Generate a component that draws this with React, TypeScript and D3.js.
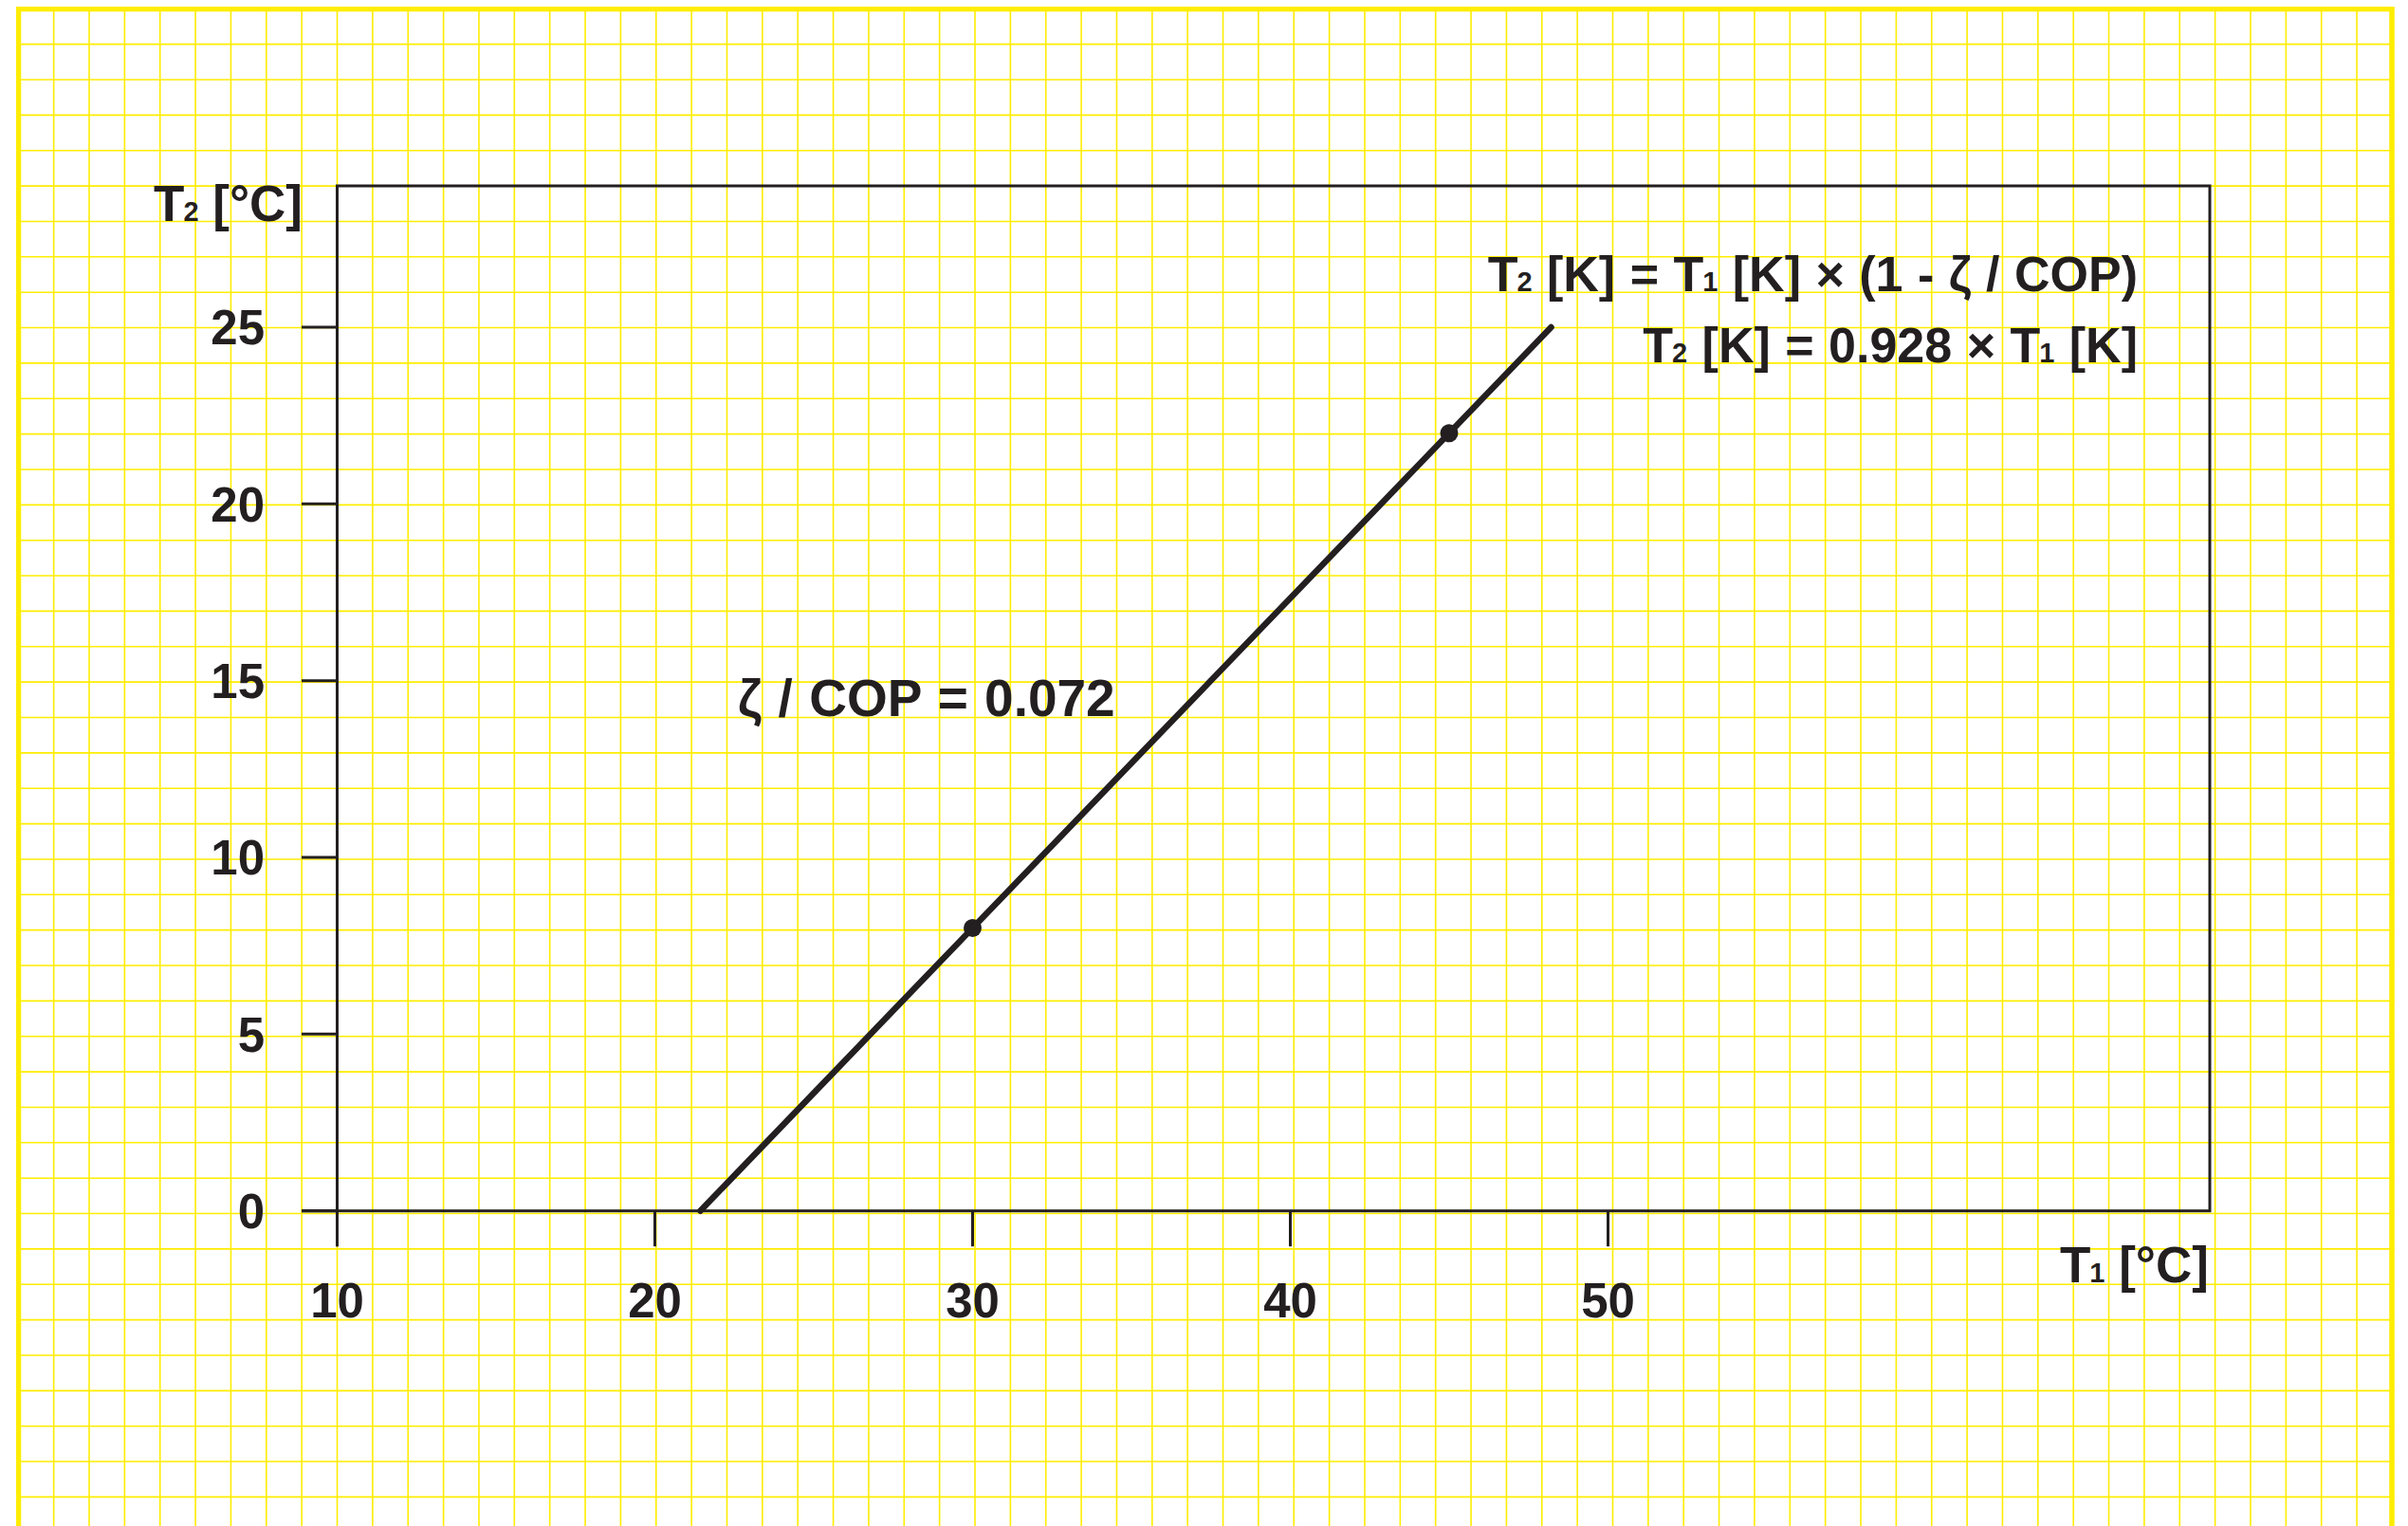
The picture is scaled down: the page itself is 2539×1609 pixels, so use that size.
import React from "react";
import * as d3 from "d3";

// Line through the operating points: T2 [°C] against T1 [°C]
const lineT1: number[] = [21.43, 30, 45, 48.21];
const lineT2: number[] = [0, 8, 22, 25];

// Marked operating points
const pointT1: number[] = [30, 45];
const pointT2: number[] = [8, 22];

// Axis ticks
const xTicks: number[] = [10, 20, 30, 40, 50];
const yTicks: number[] = [0, 5, 10, 15, 20, 25];

const W = 2539;
const H = 1609;
const INK = "#231f20";
const YELLOW = "#ffed00";
const FONT = "'Liberation Sans', Arial, Helvetica, sans-serif";

// Plot frame
const frameLeft = 355.5;
const frameRight = 2330;
const frameTop = 196;
const frameBottom = 1276.7;
const tickLen = 37.5;

// Graph-paper background
const gridStep = 37.36;
const gridX0 = 19.3;
const gridY0 = 9.3;

export default function App() {
  const x = d3.scaleLinear().domain([10, 50]).range([frameLeft, 1695.5]);
  const y = d3.scaleLinear().domain([0, 25]).range([frameBottom, 345]);

  const line = d3
    .line<number>()
    .x((_, i) => x(lineT1[i]))
    .y((_, i) => y(lineT2[i]));

  const vLines = d3.range(gridX0, W, gridStep);
  const hLines = d3.range(gridY0, H + gridStep, gridStep);

  const sub = 29;

  return (
    <svg
      width={W}
      height={H}
      viewBox={`0 0 ${W} ${H}`}
      style={{ position: "absolute", left: 0, top: 0, background: "#fff" }}
    >
      <rect x={0} y={0} width={W} height={H} fill="#fff" />
      <g stroke={YELLOW} strokeWidth={1.6}>
        {vLines.map((gx, i) => (
          <line key={"v" + i} x1={gx} x2={gx} y1={0} y2={H} />
        ))}
        {hLines.map((gy, i) => (
          <line key={"h" + i} x1={0} x2={W} y1={gy} y2={gy} />
        ))}
      </g>
      {/* outer yellow border, open at the bottom */}
      <path
        d={`M19.5,${H} L19.5,9.5 L2522,9.5 L2522,${H}`}
        fill="none"
        stroke={YELLOW}
        strokeWidth={5.5}
      />
      <rect x={0} y={0} width={17} height={H} fill="#fff" />
      <rect x={0} y={0} width={W} height={7} fill="#fff" />
      <rect x={2525} y={0} width={W - 2525} height={H} fill="#fff" />

      {/* frame */}
      <g stroke={INK} strokeWidth={3} fill="none">
        <path
          d={`M${frameLeft},${frameBottom + tickLen} L${frameLeft},${frameTop} L${frameRight},${frameTop} L${frameRight},${frameBottom} L${frameLeft - tickLen},${frameBottom}`}
        />
        {yTicks.map((t) => (
          <line key={"yt" + t} x1={frameLeft - tickLen} x2={frameLeft} y1={y(t)} y2={y(t)} />
        ))}
        {xTicks.map((t) => (
          <line key={"xt" + t} x1={x(t)} x2={x(t)} y1={frameBottom} y2={frameBottom + tickLen} />
        ))}
      </g>

      {/* tick labels */}
      <g fill={INK} fontFamily={FONT} fontWeight="bold" fontSize={51}>
        {yTicks.map((t) => (
          <text key={"yl" + t} x={279} y={y(t)} dy="0.36em" textAnchor="end">
            {t}
          </text>
        ))}
        {xTicks.map((t) => (
          <text key={"xl" + t} x={x(t)} y={1389} textAnchor="middle">
            {t}
          </text>
        ))}
      </g>

      {/* axis titles and annotations */}
      <g fill={INK} fontFamily={FONT} fontWeight="bold" fontSize={53}>
        <text x={162} y={233}>
          T<tspan fontSize={sub} dx={-1}>2</tspan> [°C]
        </text>
        <text x={2329} y={1352} textAnchor="end">
          T<tspan fontSize={sub} dx={-1}>1</tspan> [°C]
        </text>
        <text x={2254} y={307} textAnchor="end" fontSize={52} wordSpacing={1}>
          T<tspan fontSize={sub} dx={-1}>2</tspan> [K] = T<tspan fontSize={sub} dx={-1}>1</tspan> [K] × (1 - ζ / COP)
        </text>
        <text x={2254} y={382} textAnchor="end" fontSize={52} wordSpacing={1}>
          T<tspan fontSize={sub} dx={-1}>2</tspan> [K] = 0.928 × T<tspan fontSize={sub} dx={-1}>1</tspan> [K]
        </text>
        <text x={778} y={755} fontSize={55} wordSpacing={2}>
          ζ / COP = 0.072
        </text>
      </g>

      {/* characteristic line and marked points */}
      <path
        d={line(lineT1) ?? ""}
        fill="none"
        stroke={INK}
        strokeWidth={6.5}
        strokeLinecap="round"
      />
      {pointT1.map((p, i) => (
        <circle key={"p" + i} cx={x(p)} cy={y(pointT2[i])} r={9.5} fill={INK} />
      ))}
    </svg>
  );
}
